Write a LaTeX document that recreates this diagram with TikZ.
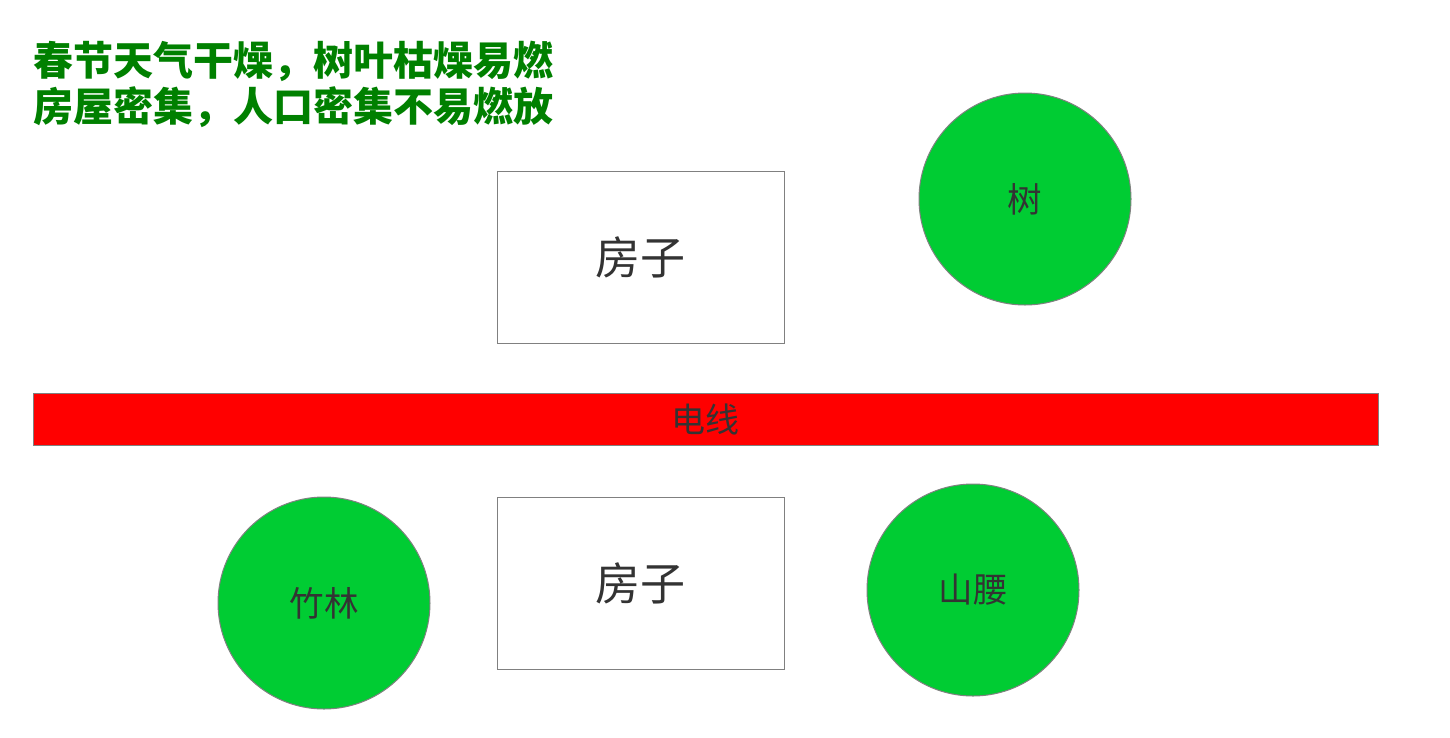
\documentclass[tikz,border=0pt]{standalone}
\usepackage{fontspec}
\newfontfamily\cjk{Noto Sans CJK SC}
\definecolor{leaf}{HTML}{00CC33}
\definecolor{ink}{HTML}{333333}
\definecolor{edge}{HTML}{808080}
\definecolor{titlegreen}{HTML}{008000}
\begin{document}
\begin{tikzpicture}[x=1pt,y=-1pt,
  house/.style={draw=edge,line width=1pt,fill=white,minimum width=287pt,minimum height=172pt,inner sep=0pt,font=\cjk\fontsize{45}{50}\selectfont,text=ink},
  plant/.style={circle,draw=edge,line width=1pt,fill=leaf,minimum size=212pt,inner sep=0pt,font=\cjk\fontsize{34.5}{38}\selectfont,text=ink},
  wire/.style={draw=edge,line width=1pt,fill=red,minimum width=1345pt,minimum height=52pt,inner sep=0pt,font=\cjk\fontsize{34}{38}\selectfont,text=ink},
  title/.style={anchor=north west,align=left,inner sep=0pt,font=\cjk\bfseries\fontsize{40}{46}\selectfont,text=titlegreen}]
\useasboundingbox (0,0) rectangle (1450,737);
\node[title] (t) at (33,41) {春节天气干燥，树叶枯燥易燃\\房屋密集，人口密集不易燃放};
\node[house] (h1) at (640.5,257) {房子};
\node[house] (h2) at (640.5,583) {房子};
\node[plant] (tree) at (1025,199) {树};
\node[wire] (w) at (705.5,419) {电线};
\node[plant] (bamboo) at (324,603) {竹林};
\node[plant] (hill) at (973,590) {山腰};
\end{tikzpicture}
\end{document}
